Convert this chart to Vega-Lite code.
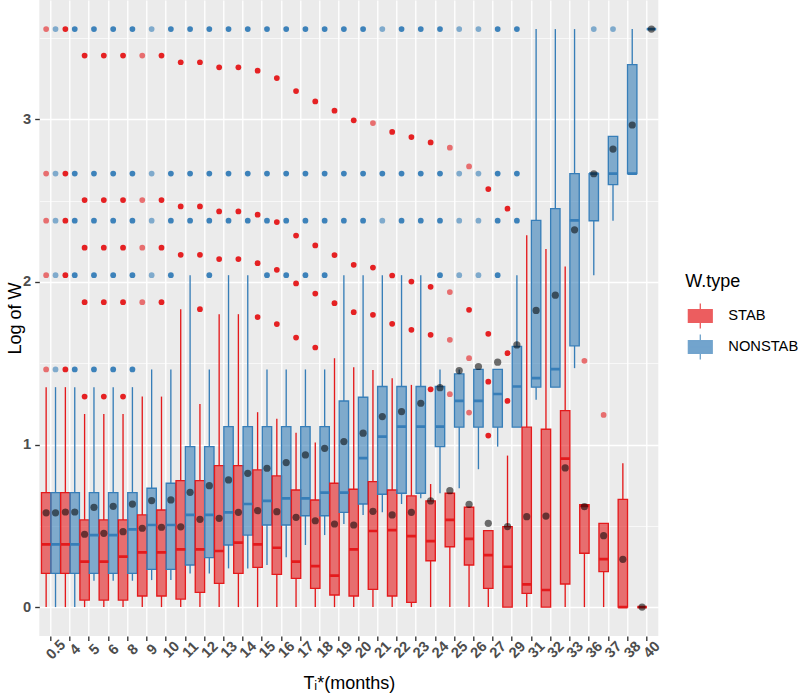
{
  "$schema": "https://vega.github.io/schema/vega-lite/v6.json",
  "width": 619,
  "height": 636,
  "autosize": "none",
  "padding": {"left": 39.3, "top": 0, "right": 141.7, "bottom": 58},
  "background": "white",
  "config": {
    "view": {"fill": "#EBEBEB", "stroke": null},
    "font": "Liberation Sans",
    "axis": {
      "domain": false,
      "tickColor": "#333333",
      "tickWidth": 1.34,
      "tickSize": 4.6,
      "labelColor": "#4D4D4D",
      "labelFont": "Liberation Sans",
      "labelFontSize": 14.7,
      "labelFontWeight": "bold",
      "gridColor": "white",
      "gridWidth": 1.34,
      "titleFont": "Liberation Sans",
      "titleFontSize": 18,
      "titleFontWeight": "normal",
      "titleColor": "black"
    },
    "legend": {
      "padding": 0,
      "titleFont": "Liberation Sans",
      "titleFontSize": 18,
      "titleFontWeight": "normal",
      "titleColor": "black",
      "labelFont": "Liberation Sans",
      "labelFontSize": 14.7,
      "labelColor": "black",
      "symbolType": "M-0.85,-0.45H0.85V0.45H-0.85Z M-0.85,0H0.85 M0,-0.45V-0.9 M0,0.45V0.9",
      "symbolSize": 784,
      "symbolStrokeWidth": 1.34,
      "labelOffset": 13,
      "titlePadding": 10,
      "rowPadding": -2
    }
  },
  "datasets": {
    "boxes": [
      {"t":"0.5","type":"STAB","lo":0,"q1":0.207,"med":0.386,"q3":0.704,"hi":1.353,"mean":0.58},
      {"t":"0.5","type":"NONSTAB","lo":0,"q1":0.207,"med":0.386,"q3":0.704,"hi":1.353,"mean":0.58},
      {"t":"4","type":"STAB","lo":0,"q1":0.207,"med":0.386,"q3":0.704,"hi":1.353,"mean":0.585},
      {"t":"4","type":"NONSTAB","lo":0,"q1":0.207,"med":0.386,"q3":0.704,"hi":1.353,"mean":0.585},
      {"t":"5","type":"STAB","lo":0,"q1":0.043,"med":0.279,"q3":0.536,"hi":1.188,"mean":0.448},
      {"t":"5","type":"NONSTAB","lo":0.162,"q1":0.207,"med":0.443,"q3":0.704,"hi":1.353,"mean":0.614},
      {"t":"6","type":"STAB","lo":0,"q1":0.043,"med":0.279,"q3":0.536,"hi":1.188,"mean":0.454},
      {"t":"6","type":"NONSTAB","lo":0.162,"q1":0.207,"med":0.443,"q3":0.704,"hi":1.353,"mean":0.62},
      {"t":"8","type":"STAB","lo":0,"q1":0.043,"med":0.31,"q3":0.536,"hi":1.188,"mean":0.464},
      {"t":"8","type":"NONSTAB","lo":0.162,"q1":0.207,"med":0.478,"q3":0.704,"hi":1.353,"mean":0.634},
      {"t":"9","type":"STAB","lo":0,"q1":0.068,"med":0.337,"q3":0.567,"hi":1.295,"mean":0.485},
      {"t":"9","type":"NONSTAB","lo":0.166,"q1":0.232,"med":0.505,"q3":0.731,"hi":1.462,"mean":0.655},
      {"t":"10","type":"STAB","lo":0,"q1":0.068,"med":0.337,"q3":0.597,"hi":1.295,"mean":0.491},
      {"t":"10","type":"NONSTAB","lo":0.166,"q1":0.232,"med":0.505,"q3":0.762,"hi":1.462,"mean":0.659},
      {"t":"11","type":"STAB","lo":0,"q1":0.049,"med":0.355,"q3":0.778,"hi":1.833,"mean":0.494},
      {"t":"11","type":"NONSTAB","lo":0.207,"q1":0.259,"med":0.567,"q3":0.987,"hi":2.042,"mean":0.706},
      {"t":"12","type":"STAB","lo":0,"q1":0.09,"med":0.355,"q3":0.778,"hi":1.25,"mean":0.54},
      {"t":"12","type":"NONSTAB","lo":0.207,"q1":0.304,"med":0.567,"q3":0.987,"hi":1.462,"mean":0.747},
      {"t":"13","type":"STAB","lo":0,"q1":0.146,"med":0.345,"q3":0.87,"hi":1.802,"mean":0.546},
      {"t":"13","type":"NONSTAB","lo":0.238,"q1":0.382,"med":0.583,"q3":1.11,"hi":2.042,"mean":0.782},
      {"t":"14","type":"STAB","lo":0,"q1":0.207,"med":0.396,"q3":0.87,"hi":1.802,"mean":0.583},
      {"t":"14","type":"NONSTAB","lo":0.238,"q1":0.443,"med":0.634,"q3":1.11,"hi":2.042,"mean":0.823},
      {"t":"15","type":"STAB","lo":0,"q1":0.244,"med":0.386,"q3":0.844,"hi":1.199,"mean":0.593},
      {"t":"15","type":"NONSTAB","lo":0.259,"q1":0.505,"med":0.653,"q3":1.11,"hi":1.462,"mean":0.854},
      {"t":"16","type":"STAB","lo":0,"q1":0.201,"med":0.365,"q3":0.807,"hi":1.158,"mean":0.587},
      {"t":"16","type":"NONSTAB","lo":0.306,"q1":0.505,"med":0.669,"q3":1.11,"hi":1.462,"mean":0.889},
      {"t":"17","type":"STAB","lo":0,"q1":0.177,"med":0.279,"q3":0.72,"hi":1.073,"mean":0.552},
      {"t":"17","type":"NONSTAB","lo":0.382,"q1":0.562,"med":0.669,"q3":1.11,"hi":1.462,"mean":0.936},
      {"t":"18","type":"STAB","lo":0,"q1":0.115,"med":0.252,"q3":0.659,"hi":1.012,"mean":0.531},
      {"t":"18","type":"NONSTAB","lo":0.443,"q1":0.562,"med":0.704,"q3":1.11,"hi":1.462,"mean":0.977},
      {"t":"19","type":"STAB","lo":0,"q1":0.074,"med":0.193,"q3":0.762,"hi":1.531,"mean":0.511},
      {"t":"19","type":"NONSTAB","lo":0.511,"q1":0.583,"med":0.704,"q3":1.268,"hi":2.042,"mean":1.018},
      {"t":"20","type":"STAB","lo":0,"q1":0.068,"med":0.355,"q3":0.725,"hi":1.476,"mean":0.505},
      {"t":"20","type":"NONSTAB","lo":0.567,"q1":0.634,"med":0.916,"q3":1.291,"hi":2.042,"mean":1.07},
      {"t":"21","type":"STAB","lo":0,"q1":0.109,"med":0.468,"q3":0.772,"hi":1.459,"mean":0.589},
      {"t":"21","type":"NONSTAB","lo":0.583,"q1":0.694,"med":1.049,"q3":1.357,"hi":2.042,"mean":1.172},
      {"t":"22","type":"STAB","lo":0,"q1":0.068,"med":0.474,"q3":0.72,"hi":1.408,"mean":0.567},
      {"t":"22","type":"NONSTAB","lo":0.634,"q1":0.7,"med":1.11,"q3":1.357,"hi":2.042,"mean":1.203},
      {"t":"23","type":"STAB","lo":0,"q1":0.029,"med":0.437,"q3":0.684,"hi":1.367,"mean":0.583},
      {"t":"23","type":"NONSTAB","lo":0.669,"q1":0.7,"med":1.11,"q3":1.357,"hi":2.042,"mean":1.254},
      {"t":"24","type":"STAB","lo":0,"q1":0.285,"med":0.406,"q3":0.653,"hi":0.757,"mean":0.653},
      {"t":"24","type":"NONSTAB","lo":0.7,"q1":0.987,"med":1.11,"q3":1.357,"hi":1.462,"mean":1.35},
      {"t":"25","type":"STAB","lo":0,"q1":0.371,"med":0.536,"q3":0.7,"hi":0.7,"mean":0.716},
      {"t":"25","type":"NONSTAB","lo":0.731,"q1":1.107,"med":1.268,"q3":1.435,"hi":1.462,"mean":1.455},
      {"t":"26","type":"STAB","lo":0,"q1":0.259,"med":0.419,"q3":0.614,"hi":0.614,"mean":0.632},
      {"t":"26","type":"NONSTAB","lo":0.848,"q1":1.107,"med":1.268,"q3":1.462,"hi":1.462,"mean":1.48},
      {"t":"27","type":"STAB","lo":0,"q1":0.115,"med":0.32,"q3":0.47,"hi":0.47,"mean":0.515},
      {"t":"27","type":"NONSTAB","lo":0.987,"q1":1.107,"med":1.311,"q3":1.462,"hi":1.462,"mean":1.507},
      {"t":"29","type":"STAB","lo":0,"q1":0,"med":0.248,"q3":0.495,"hi":0.932,"mean":0.495},
      {"t":"29","type":"NONSTAB","lo":1.107,"q1":1.107,"med":1.357,"q3":1.603,"hi":2.042,"mean":1.613},
      {"t":"31","type":"STAB","lo":0,"q1":0.084,"med":0.14,"q3":1.107,"hi":2.287,"mean":0.556},
      {"t":"31","type":"NONSTAB","lo":1.275,"q1":1.353,"med":1.408,"q3":2.379,"hi":3.556,"mean":1.825},
      {"t":"32","type":"STAB","lo":0,"q1":0,"med":0.105,"q3":1.094,"hi":2.203,"mean":0.56},
      {"t":"32","type":"NONSTAB","lo":1.353,"q1":1.353,"med":1.464,"q3":2.451,"hi":3.556,"mean":1.919},
      {"t":"33","type":"STAB","lo":0,"q1":0.142,"med":0.913,"q3":1.209,"hi":2.096,"mean":0.856},
      {"t":"33","type":"NONSTAB","lo":1.47,"q1":1.607,"med":2.379,"q3":2.667,"hi":3.556,"mean":2.321},
      {"t":"36","type":"STAB","lo":0,"q1":0.331,"med":0.622,"q3":0.63,"hi":0.63,"mean":0.618},
      {"t":"36","type":"NONSTAB","lo":2.042,"q1":2.377,"med":2.667,"q3":2.667,"hi":2.667,"mean":2.666},
      {"t":"37","type":"STAB","lo":0,"q1":0.218,"med":0.295,"q3":0.515,"hi":0.515,"mean":0.439},
      {"t":"37","type":"NONSTAB","lo":2.377,"q1":2.599,"med":2.667,"q3":2.896,"hi":2.896,"mean":2.818},
      {"t":"38","type":"STAB","lo":0,"q1":0,"med":0,"q3":0.663,"hi":0.885,"mean":0.294},
      {"t":"38","type":"NONSTAB","lo":2.667,"q1":2.667,"med":2.667,"q3":3.337,"hi":3.556,"mean":2.966},
      {"t":"40","type":"STAB","lo":0,"q1":0,"med":0,"q3":0,"hi":0,"mean":0},
      {"t":"40","type":"NONSTAB","lo":3.556,"q1":3.556,"med":3.556,"q3":3.556,"hi":3.556,"mean":3.556}
    ],
    "outliers": [
      {"t":"0.5","type":"STAB","y":3.556,"n":1},{"t":"0.5","type":"STAB","y":2.667,"n":1},{"t":"0.5","type":"STAB","y":2.377,"n":1},{"t":"0.5","type":"STAB","y":2.042,"n":1},{"t":"0.5","type":"STAB","y":1.462,"n":1},
      {"t":"0.5","type":"NONSTAB","y":3.556,"n":1},{"t":"0.5","type":"NONSTAB","y":2.667,"n":1},{"t":"0.5","type":"NONSTAB","y":2.377,"n":1},{"t":"0.5","type":"NONSTAB","y":2.042,"n":1},{"t":"0.5","type":"NONSTAB","y":1.462,"n":1},
      {"t":"4","type":"STAB","y":3.556,"n":2},{"t":"4","type":"STAB","y":2.667,"n":2},{"t":"4","type":"STAB","y":2.377,"n":2},{"t":"4","type":"STAB","y":2.042,"n":2},{"t":"4","type":"STAB","y":1.462,"n":2},
      {"t":"4","type":"NONSTAB","y":3.556,"n":2},{"t":"4","type":"NONSTAB","y":2.667,"n":2},{"t":"4","type":"NONSTAB","y":2.377,"n":2},{"t":"4","type":"NONSTAB","y":2.042,"n":2},{"t":"4","type":"NONSTAB","y":1.462,"n":2},
      {"t":"5","type":"STAB","y":3.393,"n":2},{"t":"5","type":"STAB","y":2.504,"n":2},{"t":"5","type":"STAB","y":2.211,"n":2},{"t":"5","type":"STAB","y":1.876,"n":2},{"t":"5","type":"STAB","y":1.295,"n":2},
      {"t":"5","type":"NONSTAB","y":3.556,"n":2},{"t":"5","type":"NONSTAB","y":2.667,"n":2},{"t":"5","type":"NONSTAB","y":2.377,"n":2},{"t":"5","type":"NONSTAB","y":2.042,"n":2},{"t":"5","type":"NONSTAB","y":1.462,"n":2},
      {"t":"6","type":"STAB","y":3.393,"n":2},{"t":"6","type":"STAB","y":2.504,"n":2},{"t":"6","type":"STAB","y":2.211,"n":2},{"t":"6","type":"STAB","y":1.876,"n":2},{"t":"6","type":"STAB","y":1.295,"n":2},
      {"t":"6","type":"NONSTAB","y":3.556,"n":2},{"t":"6","type":"NONSTAB","y":2.667,"n":2},{"t":"6","type":"NONSTAB","y":2.377,"n":2},{"t":"6","type":"NONSTAB","y":2.042,"n":2},{"t":"6","type":"NONSTAB","y":1.462,"n":2},
      {"t":"8","type":"STAB","y":3.393,"n":2},{"t":"8","type":"STAB","y":2.504,"n":2},{"t":"8","type":"STAB","y":2.211,"n":2},{"t":"8","type":"STAB","y":1.876,"n":2},{"t":"8","type":"STAB","y":1.295,"n":2},
      {"t":"8","type":"NONSTAB","y":3.556,"n":2},{"t":"8","type":"NONSTAB","y":2.667,"n":2},{"t":"8","type":"NONSTAB","y":2.377,"n":2},{"t":"8","type":"NONSTAB","y":2.042,"n":2},{"t":"8","type":"NONSTAB","y":1.462,"n":2},
      {"t":"9","type":"STAB","y":3.393,"n":1},{"t":"9","type":"STAB","y":2.504,"n":1},{"t":"9","type":"STAB","y":2.211,"n":1},{"t":"9","type":"STAB","y":1.876,"n":1},
      {"t":"9","type":"NONSTAB","y":3.556,"n":1},{"t":"9","type":"NONSTAB","y":2.667,"n":1},{"t":"9","type":"NONSTAB","y":2.377,"n":1},{"t":"9","type":"NONSTAB","y":2.042,"n":1},
      {"t":"10","type":"STAB","y":3.393,"n":2},{"t":"10","type":"STAB","y":2.504,"n":2},{"t":"10","type":"STAB","y":2.211,"n":2},{"t":"10","type":"STAB","y":1.876,"n":2},
      {"t":"10","type":"NONSTAB","y":3.556,"n":2},{"t":"10","type":"NONSTAB","y":2.667,"n":2},{"t":"10","type":"NONSTAB","y":2.377,"n":2},{"t":"10","type":"NONSTAB","y":2.042,"n":2},
      {"t":"11","type":"STAB","y":3.352,"n":2},{"t":"11","type":"STAB","y":2.465,"n":2},{"t":"11","type":"STAB","y":2.167,"n":2},
      {"t":"11","type":"NONSTAB","y":3.556,"n":2},{"t":"11","type":"NONSTAB","y":2.667,"n":2},{"t":"11","type":"NONSTAB","y":2.377,"n":2},
      {"t":"12","type":"STAB","y":3.352,"n":2},{"t":"12","type":"STAB","y":2.465,"n":2},{"t":"12","type":"STAB","y":2.167,"n":2},{"t":"12","type":"STAB","y":1.833,"n":2},
      {"t":"12","type":"NONSTAB","y":3.556,"n":2},{"t":"12","type":"NONSTAB","y":2.667,"n":2},{"t":"12","type":"NONSTAB","y":2.377,"n":2},{"t":"12","type":"NONSTAB","y":2.042,"n":2},
      {"t":"13","type":"STAB","y":3.321,"n":2},{"t":"13","type":"STAB","y":2.434,"n":2},{"t":"13","type":"STAB","y":2.141,"n":2},
      {"t":"13","type":"NONSTAB","y":3.556,"n":2},{"t":"13","type":"NONSTAB","y":2.667,"n":2},{"t":"13","type":"NONSTAB","y":2.377,"n":2},
      {"t":"14","type":"STAB","y":3.321,"n":2},{"t":"14","type":"STAB","y":2.434,"n":2},{"t":"14","type":"STAB","y":2.141,"n":2},
      {"t":"14","type":"NONSTAB","y":3.556,"n":2},{"t":"14","type":"NONSTAB","y":2.667,"n":2},{"t":"14","type":"NONSTAB","y":2.377,"n":2},
      {"t":"15","type":"STAB","y":3.3,"n":2},{"t":"15","type":"STAB","y":2.414,"n":2},{"t":"15","type":"STAB","y":2.116,"n":2},{"t":"15","type":"STAB","y":1.784,"n":2},
      {"t":"15","type":"NONSTAB","y":3.556,"n":2},{"t":"15","type":"NONSTAB","y":2.667,"n":2},{"t":"15","type":"NONSTAB","y":2.377,"n":2},{"t":"15","type":"NONSTAB","y":2.042,"n":2},
      {"t":"16","type":"STAB","y":3.255,"n":2},{"t":"16","type":"STAB","y":2.369,"n":2},{"t":"16","type":"STAB","y":2.075,"n":2},{"t":"16","type":"STAB","y":1.741,"n":2},
      {"t":"16","type":"NONSTAB","y":3.556,"n":2},{"t":"16","type":"NONSTAB","y":2.667,"n":2},{"t":"16","type":"NONSTAB","y":2.377,"n":2},{"t":"16","type":"NONSTAB","y":2.042,"n":2},
      {"t":"17","type":"STAB","y":3.175,"n":2},{"t":"17","type":"STAB","y":2.286,"n":2},{"t":"17","type":"STAB","y":1.991,"n":2},{"t":"17","type":"STAB","y":1.658,"n":2},
      {"t":"17","type":"NONSTAB","y":3.556,"n":2},{"t":"17","type":"NONSTAB","y":2.667,"n":2},{"t":"17","type":"NONSTAB","y":2.377,"n":2},{"t":"17","type":"NONSTAB","y":2.042,"n":2},
      {"t":"18","type":"STAB","y":3.111,"n":2},{"t":"18","type":"STAB","y":2.225,"n":2},{"t":"18","type":"STAB","y":1.929,"n":2},{"t":"18","type":"STAB","y":1.597,"n":2},
      {"t":"18","type":"NONSTAB","y":3.556,"n":2},{"t":"18","type":"NONSTAB","y":2.667,"n":2},{"t":"18","type":"NONSTAB","y":2.377,"n":2},{"t":"18","type":"NONSTAB","y":2.042,"n":2},
      {"t":"19","type":"STAB","y":3.054,"n":2},{"t":"19","type":"STAB","y":2.166,"n":2},{"t":"19","type":"STAB","y":1.87,"n":2},
      {"t":"19","type":"NONSTAB","y":3.556,"n":2},{"t":"19","type":"NONSTAB","y":2.667,"n":2},{"t":"19","type":"NONSTAB","y":2.377,"n":2},
      {"t":"20","type":"STAB","y":2.995,"n":2},{"t":"20","type":"STAB","y":2.106,"n":2},{"t":"20","type":"STAB","y":1.814,"n":2},
      {"t":"20","type":"NONSTAB","y":3.556,"n":2},{"t":"20","type":"NONSTAB","y":2.667,"n":2},{"t":"20","type":"NONSTAB","y":2.377,"n":2},
      {"t":"21","type":"STAB","y":2.978,"n":1},{"t":"21","type":"STAB","y":2.089,"n":2},{"t":"21","type":"STAB","y":1.798,"n":2},
      {"t":"21","type":"NONSTAB","y":3.556,"n":1},{"t":"21","type":"NONSTAB","y":2.667,"n":2},{"t":"21","type":"NONSTAB","y":2.377,"n":1},
      {"t":"22","type":"STAB","y":2.923,"n":2},{"t":"22","type":"STAB","y":2.04,"n":2},{"t":"22","type":"STAB","y":1.743,"n":2},
      {"t":"22","type":"NONSTAB","y":3.556,"n":2},{"t":"22","type":"NONSTAB","y":2.667,"n":2},{"t":"22","type":"NONSTAB","y":2.377,"n":2},
      {"t":"23","type":"STAB","y":2.892,"n":2},{"t":"23","type":"STAB","y":2.003,"n":2},{"t":"23","type":"STAB","y":1.706,"n":2},
      {"t":"23","type":"NONSTAB","y":3.556,"n":2},{"t":"23","type":"NONSTAB","y":2.667,"n":2},{"t":"23","type":"NONSTAB","y":2.377,"n":2},
      {"t":"24","type":"STAB","y":2.859,"n":2},{"t":"24","type":"STAB","y":1.97,"n":2},{"t":"24","type":"STAB","y":1.675,"n":2},{"t":"24","type":"STAB","y":1.34,"n":2},
      {"t":"24","type":"NONSTAB","y":3.556,"n":2},{"t":"24","type":"NONSTAB","y":2.667,"n":2},{"t":"24","type":"NONSTAB","y":2.377,"n":2},{"t":"24","type":"NONSTAB","y":2.042,"n":2},
      {"t":"25","type":"STAB","y":2.826,"n":1},{"t":"25","type":"STAB","y":1.938,"n":1},{"t":"25","type":"STAB","y":1.644,"n":1},{"t":"25","type":"STAB","y":1.31,"n":1},
      {"t":"25","type":"NONSTAB","y":3.556,"n":1},{"t":"25","type":"NONSTAB","y":2.667,"n":1},{"t":"25","type":"NONSTAB","y":2.377,"n":1},{"t":"25","type":"NONSTAB","y":2.042,"n":1},
      {"t":"26","type":"STAB","y":2.711,"n":1},{"t":"26","type":"STAB","y":1.829,"n":2},{"t":"26","type":"STAB","y":1.531,"n":1},{"t":"26","type":"STAB","y":1.197,"n":1},
      {"t":"26","type":"NONSTAB","y":3.556,"n":1},{"t":"26","type":"NONSTAB","y":2.667,"n":1},{"t":"26","type":"NONSTAB","y":2.377,"n":1},{"t":"26","type":"NONSTAB","y":2.042,"n":1},
      {"t":"27","type":"STAB","y":2.572,"n":2},{"t":"27","type":"STAB","y":1.681,"n":2},{"t":"27","type":"STAB","y":1.387,"n":2},{"t":"27","type":"STAB","y":1.055,"n":2},
      {"t":"27","type":"NONSTAB","y":3.556,"n":2},{"t":"27","type":"NONSTAB","y":2.667,"n":2},{"t":"27","type":"NONSTAB","y":2.377,"n":2},{"t":"27","type":"NONSTAB","y":2.042,"n":2},
      {"t":"29","type":"STAB","y":2.451,"n":2},{"t":"29","type":"STAB","y":1.562,"n":2},{"t":"29","type":"STAB","y":1.268,"n":2},
      {"t":"29","type":"NONSTAB","y":3.556,"n":2},{"t":"29","type":"NONSTAB","y":2.667,"n":2},{"t":"29","type":"NONSTAB","y":2.377,"n":2},
      {"t":"36","type":"STAB","y":1.515,"n":1},
      {"t":"36","type":"NONSTAB","y":3.556,"n":1},
      {"t":"37","type":"STAB","y":1.182,"n":1},
      {"t":"37","type":"NONSTAB","y":3.556,"n":1}
    ]
  },
  "encoding": {
    "x": {
      "field": "t",
      "type": "nominal",
      "scale": {
        "domain": ["0.5","4","5","6","8","9","10","11","12","13","14","15","16","17","18","19","20","21","22","23","24","25","26","27","29","31","32","33","36","37","38","40"],
        "paddingInner": 0,
        "paddingOuter": 0.1
      },
      "axis": {
        "title": "Tᵢ*(months)",
        "labelAngle": -45,
        "labelAlign": "center",
        "labelBaseline": "middle",
        "labelOffset": 5.5,
        "labelPadding": 9,
        "labelOverlap": false,
        "grid": true,
        "bandPosition": 0.5,
        "titleBaseline": "alphabetic",
        "titleY": 52
      }
    },
    "xOffset": {
      "field": "type",
      "type": "nominal",
      "scale": {"domain": ["STAB","NONSTAB"], "paddingInner": 0, "paddingOuter": 0.025}
    }
  },
  "resolve": {"axis": {"y": "independent"}},
  "layer": [
    {
      "data": {"name": "outliers"},
      "mark": {"type": "point", "filled": true, "size": 33, "strokeWidth": 0},
      "encoding": {
        "y": {"field": "y", "type": "quantitative", "scale": {"domain": [-0.178, 3.735], "nice": false, "zero": false},
              "axis": {"values": [0.5,1.5,2.5,3.5], "grid": true, "gridWidth": 0.67, "labels": false, "ticks": false, "title": null, "domain": false, "orient": "left"}},
        "fill": {"field": "type", "type": "nominal", "scale": {"domain": ["STAB","NONSTAB"], "range": ["#E41A1C","#377EB8"]}},
        "opacity": {"field": "n", "type": "quantitative", "scale": {"domain": [1,2], "range": [0.6, 0.97]}, "legend": null}
      }
    },
    {
      "data": {"name": "boxes"},
      "mark": {"type": "rule", "strokeWidth": 1.34},
      "encoding": {
        "y": {"field": "lo", "type": "quantitative", "scale": {"domain": [-0.178, 3.735], "nice": false, "zero": false}, "axis": null},
        "y2": {"field": "q1"},
        "stroke": {"field": "type", "type": "nominal", "scale": {"domain": ["STAB","NONSTAB"], "range": ["#E41A1C","#377EB8"]}}
      }
    },
    {
      "data": {"name": "boxes"},
      "mark": {"type": "rule", "strokeWidth": 1.34},
      "encoding": {
        "y": {"field": "q3", "type": "quantitative", "scale": {"domain": [-0.178, 3.735], "nice": false, "zero": false}, "axis": null},
        "y2": {"field": "hi"},
        "stroke": {"field": "type", "type": "nominal", "scale": {"domain": ["STAB","NONSTAB"], "range": ["#E41A1C","#377EB8"]}}
      }
    },
    {
      "data": {"name": "boxes"},
      "mark": {"type": "bar", "fillOpacity": 0.6, "strokeWidth": 1.34},
      "encoding": {
        "y": {"field": "q1", "type": "quantitative", "scale": {"domain": [-0.178, 3.735], "nice": false, "zero": false},
              "axis": {"values": [0,1,2,3], "grid": true, "labelPadding": 4, "title": "Log of W", "titleX": -19.3, "titleY": 318, "titleBaseline": "alphabetic", "titleAlign": "center", "orient": "left"}},
        "y2": {"field": "q3"},
        "fill": {"field": "type", "type": "nominal", "scale": {"domain": ["STAB","NONSTAB"], "range": ["#E41A1C","#377EB8"]},
                 "legend": {"title": "W.type", "orient": "none", "legendX": 646, "legendY": 273}},
        "stroke": {"field": "type", "type": "nominal", "scale": {"domain": ["STAB","NONSTAB"], "range": ["#E41A1C","#377EB8"]},
                   "legend": {"title": "W.type", "orient": "none", "legendX": 646, "legendY": 273}}
      }
    },
    {
      "data": {"name": "boxes"},
      "mark": {"type": "bar", "filled": false, "strokeWidth": 2.7},
      "encoding": {
        "y": {"field": "med", "type": "quantitative", "scale": {"domain": [-0.178, 3.735], "nice": false, "zero": false}, "axis": null},
        "y2": {"field": "med"},
        "stroke": {"field": "type", "type": "nominal", "scale": {"domain": ["STAB","NONSTAB"], "range": ["#E41A1C","#377EB8"]}}
      }
    },
    {
      "data": {"name": "boxes"},
      "mark": {"type": "point", "filled": true, "size": 52, "color": "black", "opacity": 0.55, "strokeWidth": 0},
      "encoding": {
        "y": {"field": "mean", "type": "quantitative", "scale": {"domain": [-0.178, 3.735], "nice": false, "zero": false}, "axis": null}
      }
    }
  ]
}
